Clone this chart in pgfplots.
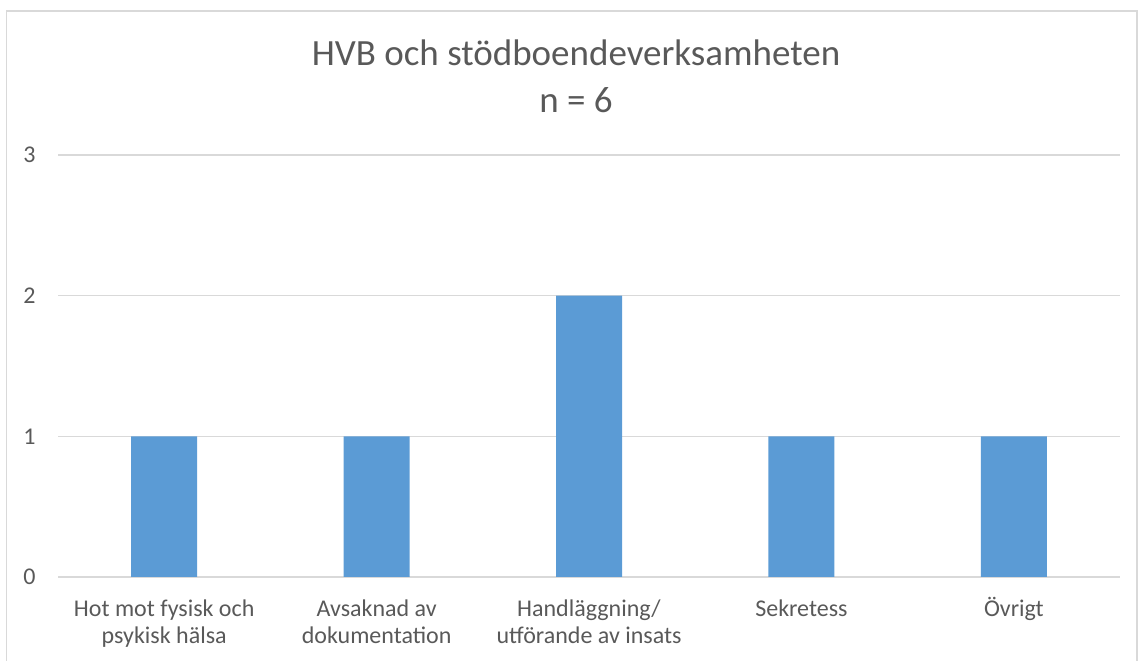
\documentclass[border=0pt]{standalone}
\usepackage{pgfplots}
\pgfplotsset{compat=1.18}
\usepackage{fontspec}
\setmainfont{Carlito}
\definecolor{barblue}{HTML}{5B9BD5}
\definecolor{gridgray}{HTML}{D9D9D9}
\definecolor{txtgray}{HTML}{595959}
\begin{document}
\begin{tikzpicture}[x=1bp,y=1bp]
\useasboundingbox (0,0) rectangle (1138,661);
\draw[gridgray,line width=1.5bp] (6.5,-5) rectangle (1137,650);
\begin{axis}[
  at={(58bp,84bp)}, anchor=south west,
  scale only axis, width=1062bp, height=422bp,
  xmin=-0.5, xmax=4.5, ymin=0, ymax=3,
  ytick={0,1,2,3},
  xtick={0,1,2,3,4},
  xticklabels={{\vphantom{Ö}Hot mot fysisk och\\psykisk hälsa},{\vphantom{Ö}Avsaknad av\\dokumentation},{\vphantom{Ö}Handläggning/\\utförande av insats},{\vphantom{Ö}Sekretess},{Övrigt}},
  xticklabel style={align=center, font=\fontsize{24bp}{27bp}\selectfont, text=txtgray, anchor=north, yshift=-17bp},
  yticklabel style={font=\fontsize{24bp}{27bp}\selectfont, text=txtgray, xshift=-19bp},
  /pgf/number format/assume math mode=true,
  axis line style={draw=none},
  axis x line*=bottom,
  x axis line style={draw=gridgray, line width=1.2bp},
  ymajorgrids, grid style={gridgray, line width=1.2bp},
  major tick length=0pt,
  clip=false,
]
\addplot[ybar, bar width=66bp, fill=barblue, draw=none] coordinates {(0,1) (1,1) (2,2) (3,1) (4,1)};
\end{axis}
\node[text=txtgray, align=center, font=\fontsize{37bp}{47bp}\selectfont, anchor=base] at (576,548) {HVB och stödboendeverksamheten\\n = 6};
\end{tikzpicture}
\end{document}
